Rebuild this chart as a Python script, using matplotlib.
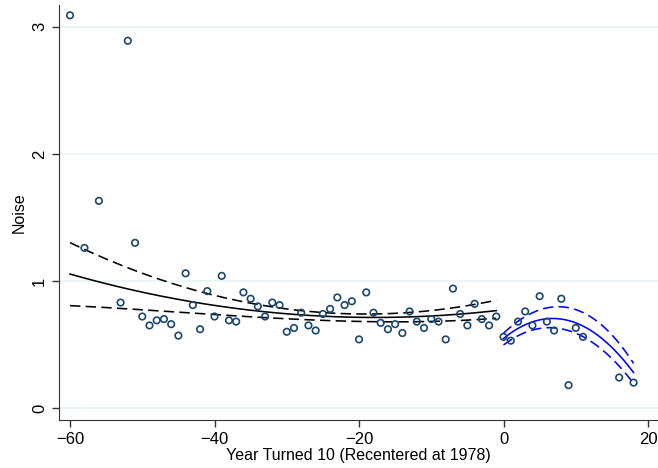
import numpy as np
import matplotlib.pyplot as plt

plt.rcParams['font.family'] = ['Liberation Sans', 'DejaVu Sans']

# 散点数据: 年份(以1978为中心) 与 Noise
years_pre = [-60, -58, -56, -53, -52, -51, -50, -49, -48, -47, -46, -45, -44, -43,
             -42, -41, -40, -39, -38, -37, -36, -35, -34, -33, -32, -31, -30, -29,
             -28, -27, -26, -25, -24, -23, -22, -21, -20, -19, -18, -17, -16, -15,
             -14, -13, -12, -11, -10, -9, -8, -7, -6, -5, -4, -3, -2, -1]
noise_pre = [3.09, 1.26, 1.63, 0.83, 2.89, 1.30, 0.72, 0.65, 0.69, 0.70, 0.66, 0.57,
             1.06, 0.81, 0.62, 0.92, 0.72, 1.04, 0.69, 0.68, 0.91, 0.86, 0.80, 0.72,
             0.83, 0.81, 0.60, 0.63, 0.75, 0.65, 0.61, 0.74, 0.78, 0.87, 0.81, 0.84,
             0.54, 0.91, 0.75, 0.67, 0.62, 0.66, 0.59, 0.76, 0.68, 0.63, 0.70, 0.68,
             0.54, 0.94, 0.74, 0.65, 0.82, 0.70, 0.65, 0.72]

years_post = [0, 1, 2, 3, 4, 5, 6, 7, 8, 9, 10, 11, 16, 18]
noise_post = [0.56, 0.53, 0.68, 0.76, 0.65, 0.88, 0.68, 0.61, 0.86, 0.18, 0.63, 0.56,
              0.24, 0.20]

# 拟合曲线及95%置信区间(从原图读取的采样值)
fit_x_pre = [-60, -55, -48, -41, -34, -23, -14, -5, -1]
fit_pre = [1.058, 0.974, 0.884, 0.819, 0.766, 0.717, 0.714, 0.745, 0.766]
upper_pre = [1.302, 1.165, 1.034, 0.903, 0.803, 0.743, 0.753, 0.811, 0.843]
lower_pre = [0.806, 0.790, 0.766, 0.740, 0.714, 0.685, 0.680, 0.690, 0.707]

fit_x_post = [0, 4, 7.5, 11, 14.5, 18]
fit_post = [0.554, 0.667, 0.698, 0.654, 0.510, 0.273]
upper_post = [0.588, 0.753, 0.790, 0.759, 0.601, 0.352]
lower_post = [0.496, 0.614, 0.628, 0.561, 0.417, 0.194]


def smooth(xr, yr, deg):
    xs = np.linspace(min(xr), max(xr), 200)
    return xs, np.polyval(np.polyfit(xr, yr, deg), xs)


fig = plt.figure(figsize=(6.58, 4.68), dpi=100)
ax = fig.add_axes([0.0897, 0.1026, 0.9103, 0.8864])

dash = (0, (6.5, 3.3))
for xr, f, lo, hi, col in [(fit_x_pre, fit_pre, lower_pre, upper_pre, 'black'),
                           (fit_x_post, fit_post, lower_post, upper_post, 'blue')]:
    ax.plot(*smooth(xr, f, 2), color=col, lw=1.15)
    ax.plot(*smooth(xr, lo, 3), color=col, lw=1.15, ls=dash)
    ax.plot(*smooth(xr, hi, 3), color=col, lw=1.15, ls=dash)

# 散点
ax.scatter(years_pre + years_post, noise_pre + noise_post, s=22, facecolors='none',
           edgecolors='#1a476f', linewidths=1.2, zorder=3)

# 坐标轴
ax.set_xlim(-61.52, 21.38)
ax.set_ylim(-0.094, 3.17)
ax.set_xticks([-60, -40, -20, 0, 20])
ax.set_yticks([0, 1, 2, 3])
ax.tick_params(direction='out', length=5, width=1, labelsize=12, color='#333333')
for lab in ax.get_yticklabels():
    lab.set_rotation(90)
    lab.set_va('center')
ax.grid(True, axis='y', color='#eaf2f3', lw=1.2)
ax.set_axisbelow(True)
for side in ['top', 'right']:
    ax.spines[side].set_visible(False)
for side in ['left', 'bottom']:
    ax.spines[side].set_color('#333333')

ax.set_xlabel('Year Turned 10 (Recentered at 1978)', fontsize=11.5, labelpad=1)
ax.set_ylabel('Noise', fontsize=11.5, labelpad=4)

fig.savefig('out.png', dpi=100)
